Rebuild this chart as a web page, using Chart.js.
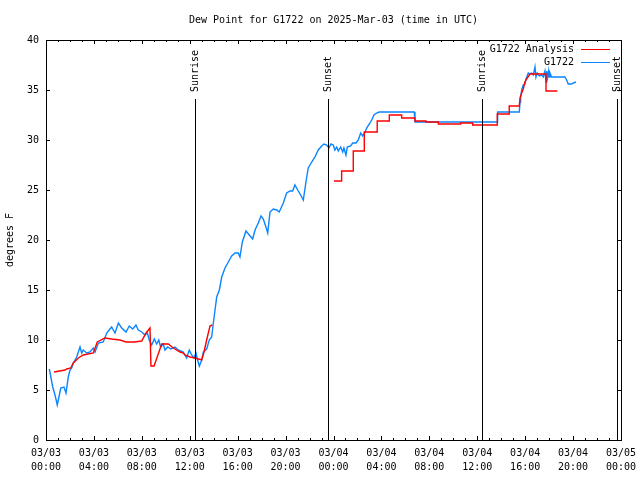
<!DOCTYPE html>
<html>
<head>
<meta charset="utf-8">
<title>Dew Point for G1722</title>
<script src="https://cdn.jsdelivr.net/npm/chart.js@4/dist/chart.umd.min.js"></script>
<style>
  html, body { margin: 0; padding: 0; background: #fff; }
  #wrap { width: 640px; height: 480px; }
</style>
</head>
<body>
<div id="wrap"><canvas id="chart" width="640" height="480"></canvas></div>
<script>
"use strict";
// hours since 03/03 00:00 UTC
const dayLabels = ['03/03', '03/04', '03/05'];
const yTicks = [0, 5, 10, 15, 20, 25, 30, 35, 40];

const eventTimes = [12.44, 23.56, 36.42, 47.64];
const eventLabels = ['Sunrise', 'Sunset', 'Sunrise', 'Sunset'];

// G1722 Analysis (null = gap)
const analysisTimes = [0.67, 1.59, 1.73, 2.06, 2.28, 2.70, 3.11, 3.95, 4.28, 4.92, 5.48, 6.18, 6.68, 7.37, 7.99, 8.35, 8.68, 8.76, 9.02, 9.66, 10.21, 10.63, 11.19, 11.46, 11.60, 12.02, 12.44, 13.00, 13.19, 13.41, 13.69, 13.88,
  18.0,
  24.04, 24.68, 24.68, 25.65, 25.65, 26.57, 26.57, 27.65, 27.65, 28.66, 28.66, 29.69, 29.69, 30.80, 30.80, 31.72, 31.72, 32.75, 32.75, 34.61, 34.61, 35.62, 35.62, 37.67, 37.67, 38.67, 38.67, 39.51, 39.57, 39.71, 39.84, 39.98, 40.12, 40.40, 41.74, 41.74, 42.68];
const analysisValues = [6.8, 7.0, 7.1, 7.2, 7.7, 8.2, 8.5, 8.7, 9.8, 10.2, 10.1, 10.0, 9.8, 9.8, 9.9, 10.7, 11.2, 7.4, 7.4, 9.6, 9.6, 9.2, 8.8, 8.7, 8.5, 8.3, 8.2, 8.0, 8.8, 10.0, 11.4, 11.5,
  null,
  25.9, 25.9, 26.9, 26.9, 28.9, 28.9, 30.8, 30.8, 31.9, 31.9, 32.5, 32.5, 32.2, 32.2, 31.9, 31.9, 31.8, 31.8, 31.6, 31.6, 31.7, 31.7, 31.5, 31.5, 32.6, 32.6, 33.4, 33.4, 34.2, 34.7, 35.1, 35.8, 36.1, 36.6, 36.6, 34.9, 34.9];

// G1722 observations
const obsTimes = [0.28, 0.56, 0.75, 0.83, 0.94, 1.03, 1.23, 1.50, 1.67, 1.86, 2.00, 2.15, 2.28, 2.56, 2.84, 2.98, 3.11, 3.40, 3.67, 3.95, 4.09, 4.37, 4.78, 5.07, 5.34, 5.48, 5.76, 6.04, 6.32, 6.68, 6.95, 7.24, 7.51, 7.70, 7.85, 7.99, 8.26, 8.46, 8.62, 8.82, 9.04, 9.24, 9.41, 9.57, 9.79, 9.93, 10.16, 10.41, 10.77, 11.04, 11.46, 11.74, 11.96, 12.16, 12.35, 12.52, 12.63, 12.80, 13.00, 13.13, 13.41, 13.63, 13.83, 13.97, 14.11, 14.25, 14.47, 14.67, 14.94, 15.22, 15.50, 15.78, 16.05, 16.19, 16.39, 16.69, 16.97, 17.25, 17.45, 17.72, 17.95, 18.14, 18.36, 18.51, 18.70, 18.97, 19.26, 19.47, 19.81, 20.09, 20.37, 20.59, 20.78, 21.06, 21.26, 21.48, 21.70, 21.89, 22.18, 22.45, 22.73, 23.01, 23.21, 23.43, 23.62, 23.79, 23.98, 24.12, 24.27, 24.40, 24.60, 24.77, 24.87, 25.04, 25.15, 25.43, 25.60, 25.88, 26.07, 26.27, 26.44, 26.63, 26.77, 26.99, 27.19, 27.38, 27.60, 27.82, 30.74, 30.80, 37.65, 37.70, 39.51, 39.57, 39.62, 39.71, 39.84, 39.98, 40.07, 40.26, 40.35, 40.54, 40.68, 40.82, 40.90, 41.01, 41.18, 41.38, 41.51, 41.65, 41.74, 41.80, 41.88, 41.96, 42.01, 42.07, 42.21, 42.49, 43.32, 43.46, 43.60, 43.88, 44.02, 44.24];
const obsValues = [7.1, 5.3, 4.5, 4.1, 3.5, 4.0, 5.2, 5.3, 4.7, 6.3, 7.0, 7.2, 7.7, 8.3, 9.3, 8.7, 9.0, 8.7, 8.8, 9.2, 8.8, 9.7, 9.8, 10.7, 11.1, 11.3, 10.7, 11.7, 11.2, 10.8, 11.4, 11.1, 11.5, 11.0, 10.9, 10.8, 10.5, 10.7, 10.0, 9.5, 10.1, 9.6, 10.0, 9.3, 9.6, 9.0, 9.3, 9.1, 9.3, 9.0, 8.8, 8.2, 9.0, 8.5, 8.2, 8.7, 8.1, 7.4, 8.0, 8.8, 9.1, 10.0, 10.3, 11.7, 13.0, 14.3, 15.0, 16.3, 17.2, 17.8, 18.4, 18.7, 18.7, 18.3, 19.8, 20.9, 20.5, 20.1, 21.0, 21.7, 22.4, 22.1, 21.3, 20.7, 22.8, 23.1, 23.0, 22.8, 23.7, 24.7, 24.9, 24.9, 25.5, 24.9, 24.5, 24.0, 25.8, 27.2, 27.8, 28.3, 29.0, 29.4, 29.6, 29.5, 29.2, 29.6, 29.5, 29.0, 29.3, 28.9, 29.3, 28.8, 29.2, 28.5, 29.3, 29.4, 29.7, 29.7, 30.0, 30.7, 30.4, 30.8, 31.2, 31.6, 32.0, 32.5, 32.7, 32.8, 32.8, 31.8, 31.8, 32.8, 32.8, 33.8, 34.3, 35.0, 35.5, 35.6, 36.1, 36.7, 36.6, 36.7, 36.5, 37.3, 36.3, 36.7, 36.4, 36.5, 36.3, 36.9, 35.8, 36.9, 36.3, 36.9, 36.3, 36.7, 36.3, 36.3, 36.3, 36.0, 35.6, 35.6, 35.7, 35.8];

const FONT = "'DejaVu Sans Mono', 'Liberation Mono', monospace";
Chart.defaults.font.family = FONT;
Chart.defaults.font.size = 10;
Chart.defaults.color = '#000';

function toPoints(xs, ys) {
  return xs.map((x, i) => ({ x: x, y: ys[i] }));
}

// gnuplot-like frame with inward ticks, sunrise/sunset markers and legend
const gnuplotFrame = {
  id: 'gnuplotFrame',
  afterDatasetsDraw(chart) {
    const ctx = chart.ctx;
    const area = chart.chartArea;
    const xs = chart.scales.x;
    const ys = chart.scales.y;
    ctx.save();
    ctx.strokeStyle = '#000';
    ctx.lineWidth = 1;

    // event lines and labels
    ctx.font = '10px ' + FONT;
    ctx.fillStyle = '#000';
    eventTimes.forEach((t, i) => {
      const px = Math.round(xs.getPixelForValue(t)) + 0.5;
      ctx.beginPath();
      ctx.moveTo(px, area.top + 59);
      ctx.lineTo(px, area.bottom);
      ctx.stroke();
      ctx.save();
      ctx.translate(px, area.top + 52);
      ctx.rotate(-Math.PI / 2);
      ctx.textAlign = 'left';
      ctx.textBaseline = 'middle';
      ctx.fillText(eventLabels[i], 0, 0);
      ctx.restore();
    });

    // border
    ctx.strokeRect(Math.round(area.left) + 0.5, Math.round(area.top) + 0.5,
      Math.round(area.right - area.left), Math.round(area.bottom - area.top));

    // x ticks: hourly minor, major at labelled ticks (bottom and top)
    for (let h = xs.min; h <= xs.max; h++) {
      const px = Math.round(xs.getPixelForValue(h)) + 0.5;
      const len = (h % 4 === 0) ? 4 : 2;
      ctx.beginPath();
      ctx.moveTo(px, area.bottom);
      ctx.lineTo(px, area.bottom - len);
      ctx.moveTo(px, area.top);
      ctx.lineTo(px, area.top + len);
      ctx.stroke();
    }
    // y ticks (left and right)
    ys.ticks.forEach(tk => {
      const py = Math.round(ys.getPixelForValue(tk.value)) + 0.5;
      ctx.beginPath();
      ctx.moveTo(area.left, py);
      ctx.lineTo(area.left + 4, py);
      ctx.moveTo(area.right, py);
      ctx.lineTo(area.right - 4, py);
      ctx.stroke();
    });

    // legend
    ctx.textAlign = 'right';
    ctx.textBaseline = 'middle';
    chart.data.datasets.forEach((ds, i) => {
      const y = area.top + 9 + i * 13;
      ctx.fillStyle = '#000';
      ctx.fillText(ds.label, area.right - 47, y);
      ctx.strokeStyle = ds.borderColor;
      ctx.beginPath();
      ctx.moveTo(area.right - 40, Math.round(y) + 0.5);
      ctx.lineTo(area.right - 11, Math.round(y) + 0.5);
      ctx.stroke();
    });
    ctx.restore();
  }
};

new Chart(document.getElementById('chart'), {
  type: 'line',
  data: {
    datasets: [
      {
        label: 'G1722 Analysis',
        data: toPoints(analysisTimes, analysisValues),
        borderColor: '#ff0000',
        borderWidth: 1.4,
        pointRadius: 0,
        tension: 0,
        spanGaps: false
      },
      {
        label: 'G1722',
        data: toPoints(obsTimes, obsValues),
        borderColor: '#0a84ff',
        borderWidth: 1.4,
        pointRadius: 0,
        tension: 0
      }
    ]
  },
  options: {
    responsive: false,
    animation: false,
    layout: { padding: { top: 0, right: 19, bottom: 0, left: 0 } },
    plugins: {
      legend: { display: false },
      tooltip: { enabled: false },
      title: {
        display: true,
        fullSize: false,
        text: 'Dew Point for G1722 on 2025-Mar-03 (time in UTC)',
        color: '#000',
        font: { family: FONT, size: 10, weight: 'normal', lineHeight: 1.2 },
        padding: { top: 14, bottom: 14 }
      }
    },
    scales: {
      x: {
        type: 'linear',
        min: 0,
        max: 48,
        grid: { display: false, drawTicks: false },
        border: { display: false },
        ticks: {
          stepSize: 4,
          autoSkip: false,
          maxRotation: 0,
          padding: 6,
          font: { family: FONT, size: 10, lineHeight: 1.4 },
          callback: v => {
            const day = dayLabels[Math.floor(v / 24)];
            const hh = String(v % 24).padStart(2, '0');
            return [day, hh + ':00'];
          }
        },
        afterFit: s => {
          s.height = 40;
          s.paddingLeft = 0;
          s.paddingRight = 0;
        }
      },
      y: {
        min: yTicks[0],
        max: yTicks[yTicks.length - 1],
        grid: { display: false, drawTicks: false },
        border: { display: false },
        ticks: { stepSize: 5, padding: 7 },
        title: {
          display: true,
          text: 'degrees F',
          font: { family: FONT, size: 10 },
          padding: { top: 4, bottom: 0 }
        },
        afterFit: s => {
          s.width = 46;
          s.paddingTop = 0;
          s.paddingBottom = 0;
        }
      }
    }
  },
  plugins: [gnuplotFrame]
});
</script>
</body>
</html>
